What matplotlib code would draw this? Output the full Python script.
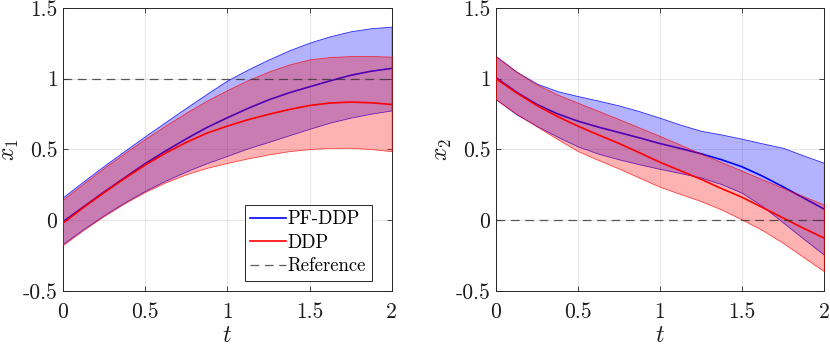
import matplotlib
matplotlib.use("Agg")
import matplotlib.pyplot as plt
import numpy as np

plt.rcParams['font.family'] = 'serif'
plt.rcParams['font.serif'] = ['cmr10']
plt.rcParams['mathtext.fontset'] = 'cm'
plt.rcParams['axes.unicode_minus'] = False

# time grid and values
t = [0, 0.125, 0.25, 0.375, 0.5, 0.625, 0.75, 0.875, 1.0,
     1.125, 1.25, 1.375, 1.5, 1.625, 1.75, 1.875, 2.0]

# x1 : PF-DDP
pf_x1_mean = [-0.01, 0.095, 0.2, 0.30, 0.40, 0.49, 0.575, 0.655, 0.724,
              0.79, 0.85, 0.90, 0.943, 0.985, 1.024, 1.053, 1.073]
pf_x1_up = [0.163, 0.275, 0.385, 0.49, 0.594, 0.695, 0.795, 0.893, 0.988,
            1.065, 1.135, 1.20, 1.255, 1.30, 1.335, 1.357, 1.368]
pf_x1_lo = [-0.167, -0.062, 0.036, 0.126, 0.208, 0.28, 0.345, 0.403, 0.455,
            0.508, 0.553, 0.60, 0.646, 0.69, 0.725, 0.753, 0.776]
# x1 : DDP
ddp_x1_mean = [-0.02, 0.09, 0.195, 0.295, 0.39, 0.475, 0.55, 0.615, 0.665,
               0.71, 0.748, 0.782, 0.811, 0.828, 0.835, 0.83, 0.818]
ddp_x1_up = [0.146, 0.26, 0.37, 0.475, 0.575, 0.67, 0.76, 0.845, 0.92,
             0.99, 1.05, 1.10, 1.137, 1.153, 1.16, 1.16, 1.156]
ddp_x1_lo = [-0.175, -0.068, 0.03, 0.12, 0.2, 0.268, 0.325, 0.37, 0.405,
             0.437, 0.465, 0.488, 0.503, 0.511, 0.512, 0.503, 0.488]

# x2 : PF-DDP
pf_x2_mean = [1.007, 0.905, 0.818, 0.752, 0.70, 0.658, 0.62, 0.582, 0.542,
              0.507, 0.47, 0.428, 0.378, 0.312, 0.237, 0.158, 0.08]
pf_x2_up = [1.16, 1.05, 0.965, 0.912, 0.877, 0.845, 0.811, 0.77, 0.724,
            0.675, 0.632, 0.606, 0.576, 0.543, 0.512, 0.458, 0.406]
pf_x2_lo = [0.854, 0.748, 0.665, 0.59, 0.521, 0.47, 0.43, 0.395, 0.363,
            0.333, 0.302, 0.255, 0.194, 0.10, -0.015, -0.13, -0.243]
# x2 : DDP
ddp_x2_mean = [1.0, 0.9, 0.81, 0.733, 0.665, 0.603, 0.543, 0.477, 0.41,
               0.35, 0.29, 0.224, 0.163, 0.09, 0.017, -0.056, -0.125]
ddp_x2_up = [1.156, 1.048, 0.958, 0.888, 0.83, 0.772, 0.714, 0.655, 0.595,
             0.533, 0.471, 0.41, 0.35, 0.289, 0.229, 0.17, 0.111]
ddp_x2_lo = [0.854, 0.752, 0.662, 0.573, 0.488, 0.425, 0.365, 0.30, 0.236,
             0.185, 0.135, 0.076, 0.005, -0.07, -0.16, -0.26, -0.36]

ref_x1 = 1.0
ref_x2 = 0.0

xticks = [0, 0.5, 1, 1.5, 2]
xticklabels = ['0', '0.5', '1', '1.5', '2']
yticks = [-0.5, 0, 0.5, 1, 1.5]
yticklabels = ['-0.5', '0', '0.5', '1', '1.5']

BLUE = '#0000ff'
RED = '#ff0000'
AXC = '0.15'

fig = plt.figure(figsize=(8.3, 3.46), dpi=100)
ax1 = fig.add_axes([0.0759, 0.159, 0.396, 0.818])
ax2 = fig.add_axes([0.5976, 0.159, 0.395, 0.818])


def draw_panel(ax, pf_m, pf_u, pf_l, dd_m, dd_u, dd_l, ref, ylab):
    ax.fill_between(t, pf_l, pf_u, facecolor=(0, 0, 1, 0.3),
                    edgecolor=(0, 0, 1, 0.8), linewidth=0.6, zorder=2)
    ax.plot(t, pf_m, color=BLUE, lw=1.2, label='PF-DDP', zorder=3)
    ax.fill_between(t, dd_l, dd_u, facecolor=(1, 0, 0, 0.3),
                    edgecolor=(1, 0, 0, 0.7), linewidth=0.6, zorder=4)
    ax.plot(t, dd_m, color=RED, lw=1.2, label='DDP', zorder=5)
    ax.plot([t[0], t[-1]], [ref, ref], color='0.2', alpha=0.8, lw=0.9,
            linestyle=(0, (7, 4.5)), label='Reference', zorder=6)

    ax.set_xlim(0, 2)
    ax.set_ylim(-0.5, 1.5)
    ax.set_xticks(xticks)
    ax.set_xticklabels(xticklabels)
    ax.set_yticks(yticks)
    ax.set_yticklabels(yticklabels)
    ax.tick_params(direction='in', length=3.5, width=0.6, colors=AXC,
                   labelcolor='0.1', labelsize=15.5, top=True, right=True)
    ax.tick_params(axis='x', pad=8)
    ax.tick_params(axis='y', pad=4)
    ax.grid(True, color='0.15', alpha=0.12, lw=0.6, zorder=0)
    ax.set_axisbelow(True)
    for s in ax.spines.values():
        s.set_color(AXC)
        s.set_linewidth(0.7)

    ax.set_xlabel('$t$', fontsize=17, color='0.1')
    ax.xaxis.set_label_coords(0.5, -0.16)
    ax.xaxis.label.set_va('center')
    ax.set_ylabel(ylab, fontsize=17, color='0.1')
    ax.yaxis.label.set_va('center')


draw_panel(ax1, pf_x1_mean, pf_x1_up, pf_x1_lo,
           ddp_x1_mean, ddp_x1_up, ddp_x1_lo, ref_x1, '$x_1$')
draw_panel(ax2, pf_x2_mean, pf_x2_up, pf_x2_lo,
           ddp_x2_mean, ddp_x2_up, ddp_x2_lo, ref_x2, '$x_2$')
ax1.yaxis.set_label_coords(-0.162, 0.5)
ax2.yaxis.set_label_coords(-0.162, 0.5)

leg = ax1.legend(loc='lower right', bbox_to_anchor=(0.939, 0.035),
                 borderaxespad=0, fancybox=False, framealpha=1,
                 edgecolor='0.15', fontsize=13.5, handlelength=1.9,
                 handletextpad=0.1, labelspacing=0.3, borderpad=0.3)
leg.get_frame().set_linewidth(0.7)

fig.savefig('out.png', dpi=100)
